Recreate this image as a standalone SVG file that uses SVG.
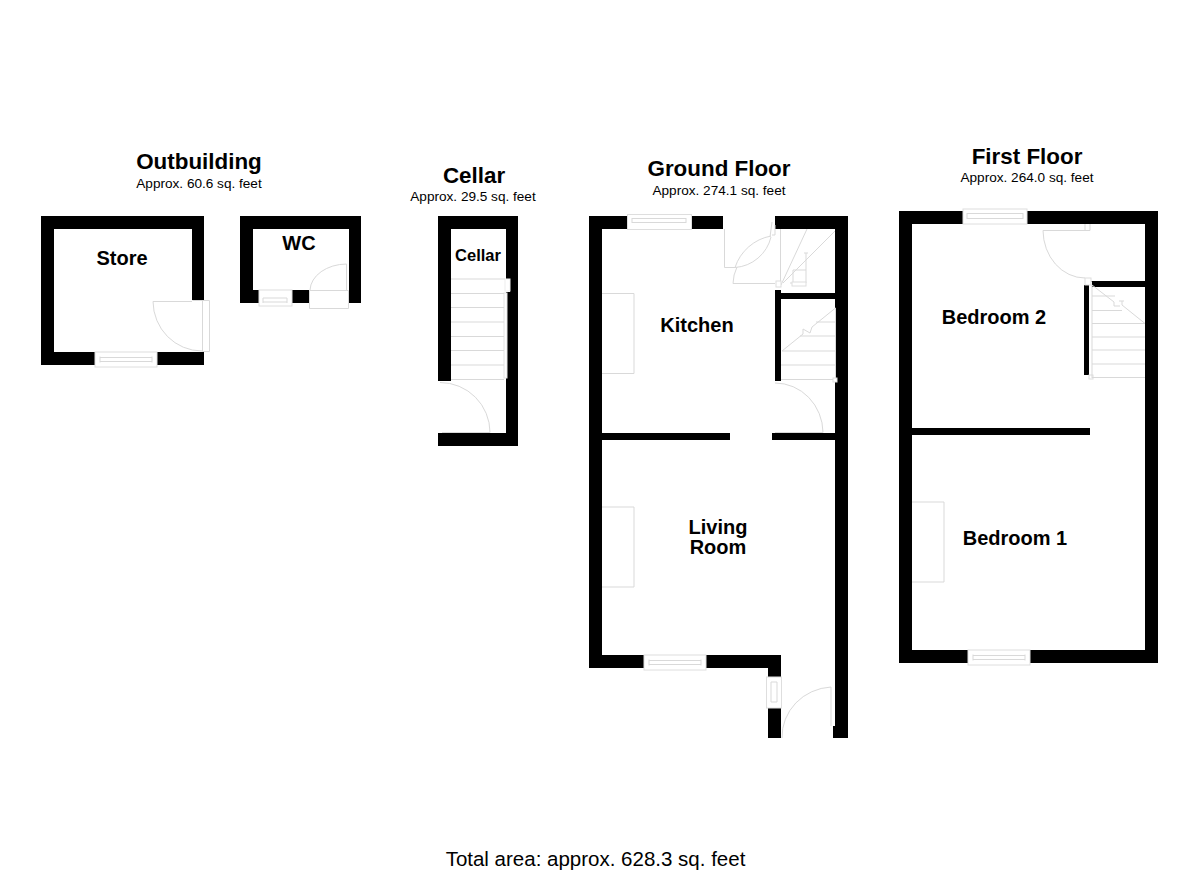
<svg xmlns="http://www.w3.org/2000/svg" width="1200" height="877" viewBox="0 0 1200 877">
<style>
text{font-family:"Liberation Sans",Arial,sans-serif;fill:#000;text-anchor:middle}
.t{font-size:22.4px;font-weight:700}
.s{font-size:13.600px}
.r{font-size:20px;font-weight:700}
.w{fill:#000;stroke:none}
.l{fill:none;stroke:#d9d9d9;stroke-width:1}
.f{fill:#fff;stroke:#dedede;stroke-width:1}
</style>
<defs>
<g id="winH"><rect class="f" x="0" y="0" width="62" height="15"/><path class="l" d="M5 4.500V10.500M57 4.500V10.500M5 5.500H57M5 9.500H57"/></g>
</defs>
<rect width="1200" height="877" fill="#fff"/>
<g id="outbuilding">
<text class="t" x="199" y="169">Outbuilding</text>
<text class="s" x="199" y="188">Approx. 60.6 sq. feet</text>
<g id="store">
<path class="w" d="M41 216H204V300H192V229H54V352H95V365H41ZM156 352H204V365H156Z"/>
<use href="#winH" x="95" y="352"/>
<path class="l" d="M192.500 300.500H209.500V351.500H202.500V300.500M153 301.500H192M153 301.500A49 50 0 0 0 202 351"/>
<text class="r" x="122" y="265">Store</text>
</g>
<g id="wc">
<path class="w" d="M240 216H361V303H349V229H253V290H292V303H240ZM292 290H309V303H292Z"/>
<rect class="f" x="259" y="290" width="33" height="16"/>
<path class="l" d="M263 298V303M287 298V303M263 298H287M263 302H287"/>
<path class="l" d="M309.500 290.500H348.500V308.500H309.500ZM346.500 264V290M346.500 264A37 27 0 0 0 310 290"/>
<text class="r" x="299" y="250">WC</text>
</g>
</g>
<g id="cellar">
<text class="t" x="474" y="183">Cellar</text>
<text class="s" x="473" y="201">Approx. 29.5 sq. feet</text>
<path class="w" d="M438 216H518V446H438V433H506V229H451V381H438Z"/>
<rect x="503" y="279" width="7" height="13" fill="#fff" stroke="none"/>
<rect x="505" y="279" width="5" height="12" fill="#fff" stroke="#eee"/>
<rect x="504" y="293" width="3" height="85" fill="#fff" stroke="#e4e4e4"/>
<path class="l" d="M451 279H505M451 293.500H504M451 307.500H504M451 322H504M451 336.500H504M451 350.500H504M451 365H504M451 379.500H504"/>
<path class="l" d="M440 382.500A50 50 0 0 1 490 432.500H442"/>
<text class="r" x="478" y="261" style="font-size:16.500px">Cellar</text>
</g>
<g id="ground-floor">
<text class="t" x="719" y="176">Ground Floor</text>
<text class="s" x="719" y="195">Approx. 274.1 sq. feet</text>
<path class="w" d="M589 216H723V229H602V655H781V738H768V668H589ZM775 216H848V738H833V726H835V229H775Z"/>
<rect class="w" x="775" y="290" width="6" height="91"/>
<rect class="w" x="781" y="293" width="54" height="6"/>
<rect class="w" x="602" y="433" width="128" height="7"/>
<rect class="w" x="772" y="433" width="63" height="7"/>
<rect class="f" x="627.500" y="214.500" width="64" height="15"/>
<path class="l" d="M632 218V223M686 218V223M632 218.500H686M632 222.500H686"/>
<use href="#winH" x="644" y="655"/>
<rect class="f" x="766.500" y="677" width="15" height="31"/>
<path class="l" d="M771 682H777M771 702H777M771 682V702M777 682V702"/>
<path class="l" d="M724.500 229V267.500H735M735 267.500A47 47 0 0 1 771 236M775 225V235H772M772 222L770 237M733 283.500H775M733 283.500A40 40 0 0 1 737 267 M735 267.500A40 40 0 0 0 771 237"/>
<path class="l" d="M780.500 229V284M781 285L807 229M783 283L835 231M790 283H806M793 270V283M806 253V283M804 253H808M793 270H806"/>
<rect class="f" x="776" y="281" width="5" height="6"/>
<rect class="f" x="792" y="282" width="14" height="4"/>
<path class="l" d="M782 351L803 334L803 329L810 333L812 327L835.500 308V378M781 379.500H836M781 365H836M782 351H836M800 336H836M816 322H836"/>
<rect class="f" x="833" y="378" width="4" height="4"/>
<path class="l" d="M775 383A48 50 0 0 1 823 432.500H775"/>
<path class="l" d="M602 293.500H634V373.500H602"/>
<path class="l" d="M602 507H634V587H602"/>
<path class="l" d="M782 738A52 50 0 0 1 831 687V726"/>
<text class="r" x="697" y="332">Kitchen</text>
<text class="r" x="718" y="534">Living</text>
<text class="r" x="718" y="554">Room</text>
</g>
<g id="first-floor">
<text class="t" x="1027" y="164">First Floor</text>
<text class="s" x="1027" y="182">Approx. 264.0 sq. feet</text>
<path class="w" d="M899 211H1158V663H899ZM912 224V650H1145V224Z" fill-rule="evenodd"/>
<rect class="w" x="1084" y="285" width="5" height="90"/>
<rect class="w" x="1092" y="281" width="53" height="6"/>
<path class="w" d="M1091 281H1098V287Z"/>
<rect class="w" x="912" y="428" width="178" height="7"/>
<rect class="f" x="963" y="209" width="64" height="15"/>
<path class="l" d="M967 213V219M1023 213V219M967 213.500H1023M967 218.500H1023"/>
<use href="#winH" x="968" y="650"/>
<path class="l" d="M1085 224V230.500H1090V224"/>
<path class="l" d="M1043 230.500H1085M1043 230.500A42 48 0 0 0 1085 278"/>
<rect class="f" x="1085" y="278" width="6" height="7"/>
<rect class="f" x="1089" y="375" width="4" height="4"/>
<path class="l" d="M1092 285V378M1092 296H1115M1092 310.500H1122M1092 323.500H1145M1092 337H1145M1092 350H1145M1092 364H1145M1092 377.500H1145M1092 285L1114 302V306M1122 301V305L1145 323.500M1119 301H1124M1114 306H1120"/>
<path class="l" d="M912 502H944V582H912"/>
<text class="r" x="994" y="324">Bedroom 2</text>
<text class="r" x="1015" y="545">Bedroom 1</text>
</g>
<text x="595.500" y="866" style="font-size:20.500px">Total area: approx. 628.3 sq. feet</text>
</svg>
